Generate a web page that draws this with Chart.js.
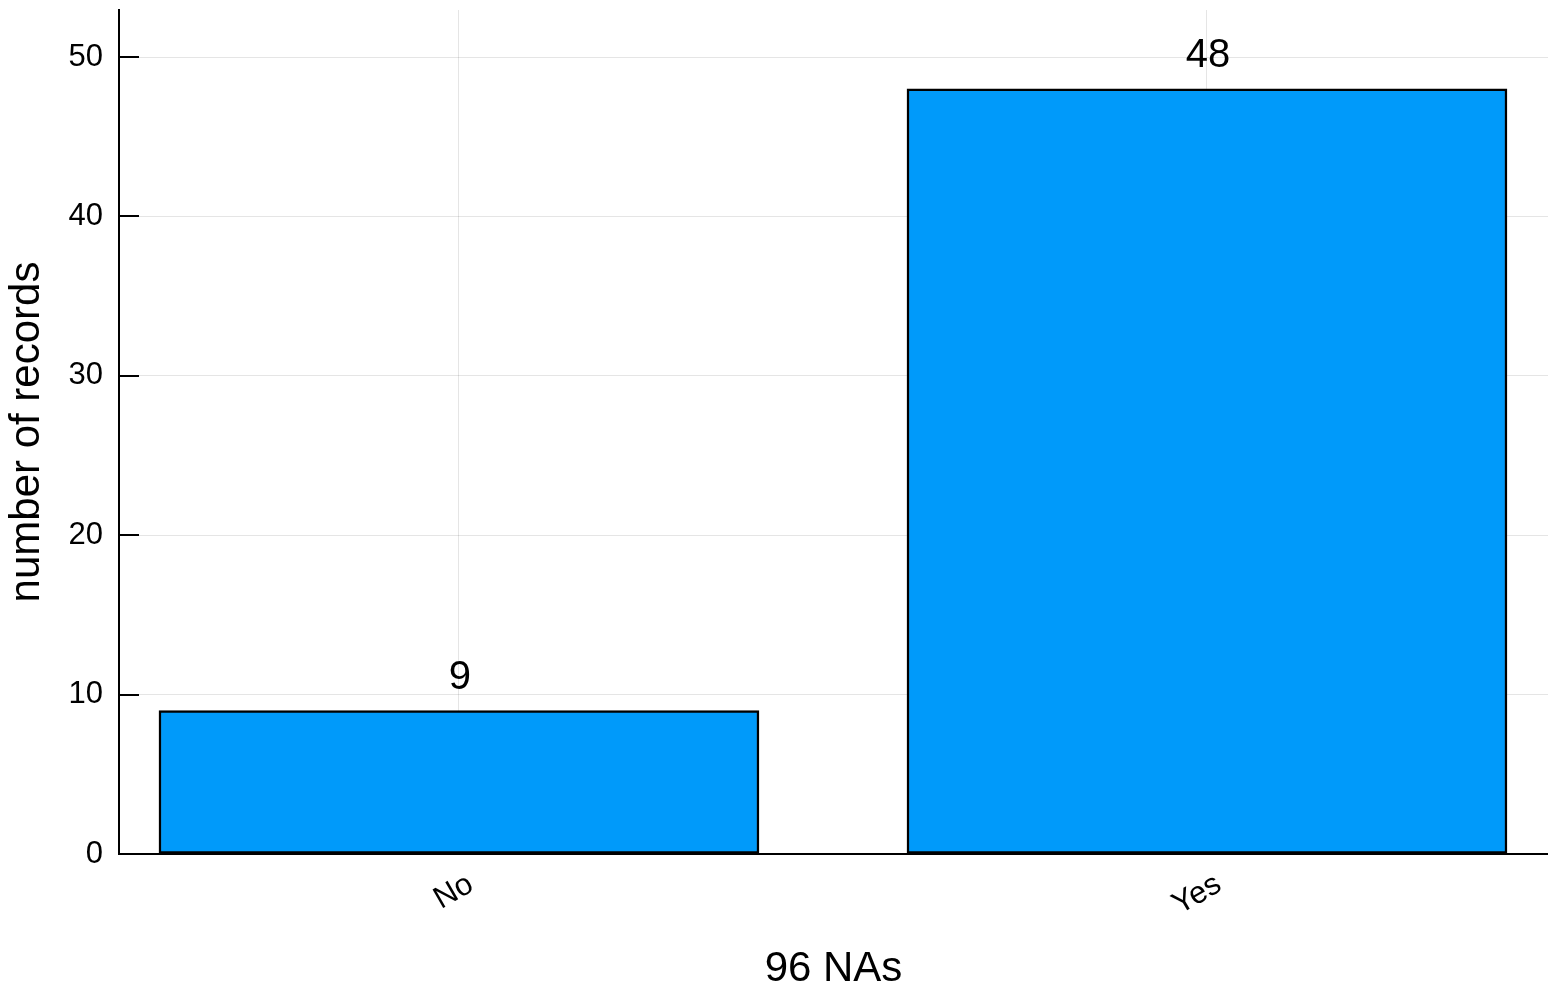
<!DOCTYPE html>
<html>
<head>
<meta charset="utf-8">
<script src="https://cdn.jsdelivr.net/npm/chart.js@4/dist/chart.umd.min.js"></script>
<style>
  html, body { margin: 0; padding: 0; background: #fff; }
  #wrap { width: 1548px; height: 992px; }
</style>
</head>
<body>
<div id="wrap"><canvas id="barChart" width="1548" height="992"></canvas></div>
<script>
// dados
const categories = ['No', 'Yes'];
const counts = [9, 48];
const yTicks = [0, 10, 20, 30, 40, 50];
const xLabel = '96 NAs';
const yLabel = 'number of records';

const FONT = "'Liberation Sans', Arial, Helvetica, sans-serif";

// rótulos de valor em cima das barras
const valueLabels = {
    id: 'valueLabels',
    afterDatasetsDraw(chart) {
        const { ctx } = chart;
        const meta = chart.getDatasetMeta(0);
        ctx.save();
        ctx.font = '40px ' + FONT;
        ctx.fillStyle = '#000';
        ctx.textAlign = 'center';
        ctx.textBaseline = 'alphabetic';
        meta.data.forEach((bar, i) => {
            ctx.fillText(String(counts[i]), bar.x + 1, bar.y - 22);
        });
        ctx.restore();
    }
};

// marcas de escala para dentro (estilo Plots.jl)
const innerTicks = {
    id: 'innerTicks',
    beforeDatasetsDraw(chart) {
        const { ctx, chartArea } = chart;
        const ys = chart.scales.y;
        const xs = chart.scales.x;
        ctx.save();
        ctx.strokeStyle = '#000';
        ctx.lineWidth = 2;
        ctx.beginPath();
        yTicks.forEach(v => {
            const py = Math.round(ys.getPixelForValue(v));
            ctx.moveTo(chartArea.left, py);
            ctx.lineTo(chartArea.left + 20, py);
        });
        categories.forEach((c, i) => {
            const px = Math.round(xs.getPixelForValue(i));
            ctx.moveTo(px, chartArea.bottom);
            ctx.lineTo(px, chartArea.bottom - 20);
        });
        ctx.stroke();
        ctx.restore();
    }
};

document.addEventListener('DOMContentLoaded', () => {
    const ctx = document.getElementById('barChart');

    new Chart(ctx, {
        type: 'bar',
        data: {
            datasets: [{
                data: counts.map((v, i) => ({ x: i, y: v })),
                backgroundColor: '#009AFA',
                borderColor: '#000',
                borderWidth: 2.5,
                borderSkipped: false,
                barThickness: 600,
            }]
        },
        options: {
            responsive: false,
            animation: false,
            events: [],
            layout: { padding: { top: 10, right: 0, left: 0, bottom: 0 } },
            plugins: {
                legend: { display: false },
                tooltip: { enabled: false },
            },
            scales: {
                x: {
                    type: 'linear',
                    offset: false,
                    min: -0.4545,
                    max: 1.4559,
                    afterBuildTicks: (scale) => {
                        scale.ticks = categories.map((c, i) => ({ value: i }));
                    },
                    afterFit: (scale) => {
                        scale.height = 138;
                        scale.paddingLeft = 0;
                        scale.paddingRight = 0;
                    },
                    ticks: {
                        callback: (v) => categories[v] ?? '',
                        font: { family: FONT, size: 31 },
                        color: '#000',
                        minRotation: 30,
                        maxRotation: 30,
                        labelOffset: 12,
                        padding: 12,
                    },
                    grid: {
                        offset: false,
                        color: 'rgba(0,0,0,0.1)',
                        lineWidth: 1,
                        drawTicks: false,
                    },
                    border: { display: true, color: '#000', width: 2 },
                    title: {
                        display: true,
                        text: xLabel,
                        font: { family: FONT, size: 42 },
                        color: '#000',
                        padding: { top: 0, bottom: -3 },
                    }
                },
                y: {
                    min: 0,
                    max: 52.95,
                    afterBuildTicks: (scale) => {
                        scale.ticks = yTicks.map(v => ({ value: v }));
                    },
                    afterFit: (scale) => {
                        scale.width = 119;
                        scale.paddingTop = 0;
                        scale.paddingBottom = 0;
                    },
                    ticks: {
                        font: { family: FONT, size: 31 },
                        color: '#000',
                        padding: 16,
                    },
                    grid: {
                        color: 'rgba(0,0,0,0.1)',
                        lineWidth: 1,
                        drawTicks: false,
                    },
                    border: { display: true, color: '#000', width: 2 },
                    title: {
                        display: true,
                        text: yLabel,
                        font: { family: FONT, size: 42 },
                        color: '#000',
                        padding: { top: 2, bottom: 0 },
                    }
                }
            }
        },
        plugins: [innerTicks, valueLabels]
    });
});
</script>
</body>
</html>
